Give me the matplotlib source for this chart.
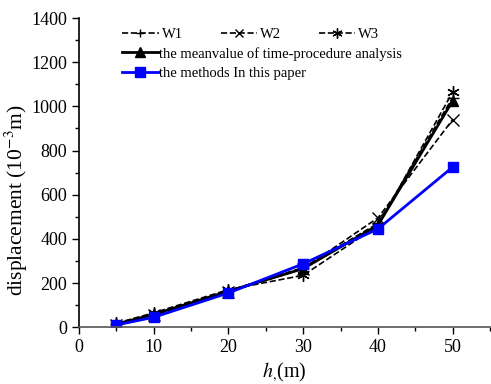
import matplotlib.pyplot as plt
from matplotlib.ticker import MultipleLocator

plt.rcParams["font.family"] = ["Liberation Serif", "DejaVu Serif"]
plt.rcParams["mathtext.fontset"] = "stix"

h = [5, 10, 20, 30, 40, 50]
w1 = [15, 60, 165, 270, 470, 1040]
w2 = [12, 55, 160, 265, 495, 940]
w3 = [18, 65, 170, 235, 460, 1065]
mean = [14, 58, 163, 265, 462, 1025]
paper = [10, 45, 155, 287, 445, 725]

fig = plt.figure(figsize=(4.91, 3.84), dpi=100)
ax = fig.add_axes([0.161, 0.148, 0.837, 0.805])

l1, = ax.plot(h, w1, "k--", lw=1.2, marker="+", ms=8, mew=1)
l2, = ax.plot(h, w2, "k--", lw=1.2, marker="x", ms=8, mew=1)
l3, = ax.plot(h, w3, "k--", lw=1.2, marker=(6, 2, 0), ms=9, mew=1)
l4, = ax.plot(h, mean, "k-", lw=2, marker="^", ms=7)
l5, = ax.plot(h, paper, "-", color="#0000ff", lw=2, marker="s", ms=7)

ax.set_xlim(0, 55)
ax.set_ylim(0, 1400)
ax.xaxis.set_major_locator(MultipleLocator(10))
ax.xaxis.set_minor_locator(MultipleLocator(5))
ax.yaxis.set_major_locator(MultipleLocator(200))
ax.yaxis.set_minor_locator(MultipleLocator(100))
ax.tick_params(which="both", direction="out", labelsize=13, width=1)
ax.tick_params(which="major", length=5)
ax.tick_params(which="minor", length=3)
for s in ["top", "right"]:
    ax.spines[s].set_visible(False)
ax.spines["left"].set_linewidth(1.2)
ax.spines["bottom"].set_linewidth(1.2)
ax.spines["bottom"].set_color("#555555")

ax.set_xlabel(r"$h_{\mathrm{,}}$(m)", fontsize=14.5, labelpad=3)
ax.set_ylabel(r"displacement (10$^{-3}$m)", fontsize=15.5)
ax.yaxis.set_label_coords(-0.12, 0.41)

# dashed W series share one row, the two solid lines sit below
leg1 = ax.legend([l1, l2, l3], ["W1", "W2", "W3"], ncol=3, frameon=False,
                 loc="upper left", bbox_to_anchor=(0.08, 1.0), fontsize=10.5,
                 handlelength=2.5, handletextpad=0.2, columnspacing=2.6,
                 borderpad=0.2, markerscale=0.8)
ax.add_artist(leg1)
ax.legend([l4, l5], ["the meanvalue of time-procedure analysis",
                     "the methods In this paper"],
          frameon=False, loc="upper left", bbox_to_anchor=(0.08, 0.94),
          fontsize=10.5, handlelength=2.5, handletextpad=0.0, labelspacing=0.4,
          borderpad=0.2)

fig.savefig("out.png", dpi=100)
